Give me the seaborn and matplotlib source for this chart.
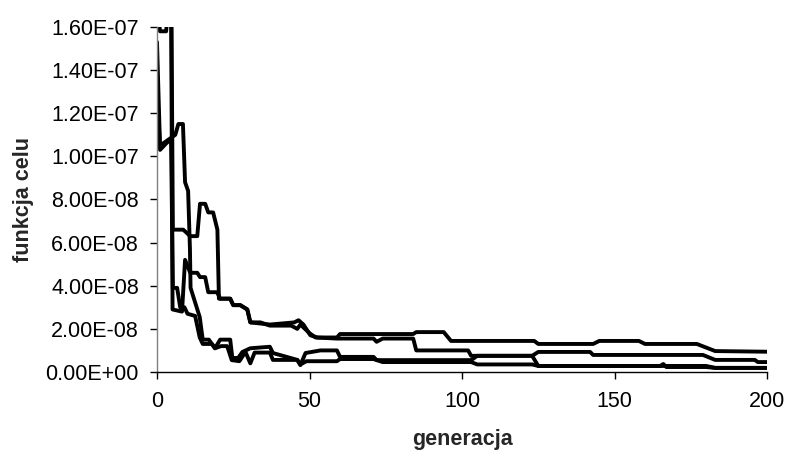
# Krzywe zbieznosci: funkcja celu w kolejnych generacjach (4 przebiegi)
import pandas as pd
import matplotlib
matplotlib.use("Agg")
import matplotlib.pyplot as plt
import seaborn as sns
from matplotlib.ticker import FuncFormatter

# wartosci w jednostkach 1e-8 (punkty zalaman)
gen_1 = [0, 1, 2, 4, 6, 7, 8.5, 9.2, 10.2, 10.8, 11, 14, 15, 17, 19, 20.7, 24, 24.7, 26.6,
         28, 30.6, 37, 38, 46, 47, 48.7, 53.6, 59, 60, 71, 72, 84, 103, 105, 123, 125,
         165, 166, 167, 180, 183, 200]
val_1 = [15.3, 10.4, 10.6, 10.8, 11.0, 11.5, 11.5, 8.8, 8.4, 5.7, 3.9, 2.55, 1.5, 1.5, 1.1,
         1.5, 1.5, 0.65, 0.65, 0.93, 1.1, 1.17, 0.88, 0.56, 0.32, 0.88, 1.0, 1.0, 0.7, 0.7,
         0.55, 0.55, 0.55, 0.75, 0.75, 0.28, 0.28, 0.37, 0.23, 0.23, 0.19, 0.19]

gen_2 = [0, 1, 3, 4, 4.7, 5.2, 8.6, 10.9, 13.2, 14.1, 15.8, 16.8, 18.4, 19.8, 20.3, 24, 25,
         27.3, 29.6, 30.6, 37, 45, 46.4, 48, 50.3, 52.6, 59, 60, 84, 85, 94, 96.4, 123.7,
         125, 143, 145, 158, 160, 177, 183, 200]
val_2 = [17.0, 15.8, 15.8, 17.5, 17.5, 6.6, 6.6, 6.3, 6.3, 7.8, 7.8, 7.4, 7.4, 6.6, 3.4, 3.4,
         3.1, 3.1, 2.9, 2.3, 2.2, 2.3, 2.4, 2.2, 1.7, 1.6, 1.6, 1.76, 1.76, 1.85, 1.85, 1.44,
         1.44, 1.3, 1.3, 1.44, 1.44, 1.3, 1.3, 0.97, 0.94]

gen_3 = [0, 2, 4.6, 5.1, 8.2, 9.2, 10.9, 13.2, 14.1, 15.8, 16.8, 19.7, 20.7, 24, 25,
         27.3, 29.6, 30.6, 33.9, 37, 44, 46, 47, 50, 52, 59, 71, 72, 74, 84, 85, 102, 103,
         123, 125, 142, 143, 179, 183, 196, 197, 200]
val_3 = [17.5, 17.5, 17.5, 2.9, 2.8, 5.2, 4.6, 4.6, 4.4, 4.4, 3.7, 3.7, 3.4, 3.4, 3.1,
         3.1, 2.9, 2.3, 2.3, 2.15, 2.15, 2.0, 2.2, 1.8, 1.6, 1.55, 1.55, 1.4, 1.55, 1.55, 1.0,
         1.0, 0.75, 0.75, 0.93, 0.93, 0.79, 0.79, 0.56, 0.56, 0.46, 0.46]

gen_4 = [0, 1, 3, 4.6, 5.2, 6.6, 7.6, 9, 10, 12.5, 14, 15, 18, 19, 21, 23, 24.5, 27, 29,
         30.6, 32, 37, 38, 46, 47, 49, 59, 60, 71, 74, 84, 103, 105, 123, 125, 180, 183, 200]
val_4 = [13.3, 10.3, 10.6, 10.8, 3.9, 3.9, 3.0, 3.0, 2.7, 2.6, 1.6, 1.3, 1.3, 1.1, 1.2, 1.2,
         0.55, 0.5, 0.93, 0.4, 0.9, 0.9, 0.56, 0.56, 0.35, 0.5, 0.5, 0.6, 0.6, 0.46, 0.46,
         0.46, 0.35, 0.35, 0.28, 0.28, 0.19, 0.19]

y_ticks = [0, 2e-8, 4e-8, 6e-8, 8e-8, 1e-7, 1.2e-7, 1.4e-7, 1.6e-7]
x_ticks = [0, 50, 100, 150, 200]

frames = []
for nr, (g, v) in enumerate([(gen_1, val_1), (gen_2, val_2), (gen_3, val_3), (gen_4, val_4)]):
    frames.append(pd.DataFrame({"generacja": g, "wartosc": [w * 1e-8 for w in v], "przebieg": nr}))
df = pd.concat(frames, ignore_index=True)

sns.set_style("white")
plt.rcParams["font.family"] = ["Liberation Sans", "DejaVu Sans"]

fig = plt.figure(figsize=(7.87, 4.58), dpi=100)
ax = fig.add_axes([0.1995, 0.1878, 0.7751, 0.7533])

sns.lineplot(data=df, x="generacja", y="wartosc", units="przebieg", estimator=None,
             color="black", linewidth=2.8, ax=ax, legend=False,
             solid_joinstyle="round", solid_capstyle="round")

ax.set_xlim(0, 200)
ax.set_ylim(0, 1.6e-7)
ax.set_xticks(x_ticks)
ax.set_yticks(y_ticks)
ax.yaxis.set_major_formatter(FuncFormatter(lambda v, p: f"{v:.2E}"))
ax.tick_params(axis="both", direction="out", length=5, width=1, colors="black",
               labelsize=15.5, left=True, bottom=True)
ax.tick_params(axis="y", pad=8)
ax.tick_params(axis="x", pad=9)

for s in ["top", "right"]:
    ax.spines[s].set_visible(False)
ax.spines["left"].set_color("#808080")
ax.spines["bottom"].set_color("black")
ax.spines["left"].set_linewidth(1)
ax.spines["bottom"].set_linewidth(1)

ax.set_xlabel("generacja", fontsize=15.5, fontweight="bold", labelpad=12)
ax.set_ylabel("funkcja celu", fontsize=15.5, fontweight="bold", labelpad=8)

fig.savefig("out.png", dpi=100)
